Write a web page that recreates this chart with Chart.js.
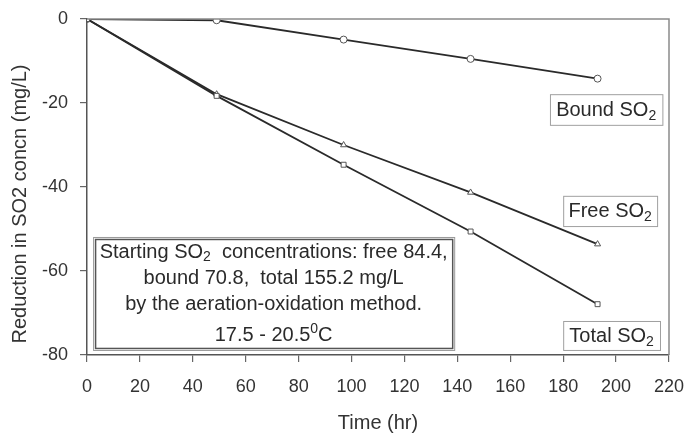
<!DOCTYPE html>
<html><head><meta charset="utf-8">
<script src="https://cdn.jsdelivr.net/npm/chart.js@4"></script>
<style>html,body{margin:0;padding:0;background:#fff;}#wrap{width:686px;height:433px;}</style>
</head><body><div id="wrap"><canvas id="c" width="686" height="433"></canvas></div>
<script>
const times = [0, 49, 97, 145, 193];
const boundSO2 = [0, -0.3, -4.9, -9.5, -14.2];
const freeSO2 = [0, -17.9, -30, -41.3, -53.6];
const totalSO2 = [0, -18.3, -34.7, -50.6, -67.9];
const xTicks = [0,20,40,60,80,100,120,140,160,180,200,220];
const yTicks = [0,-20,-40,-60,-80];
const xTitle = 'Time (hr)';
const yTitle = 'Reduction in SO2 concn (mg/L)';

const FONT = '"Liberation Sans", Arial, sans-serif';
const toPts = ys => times.map((t,i)=>({x:t,y:ys[i]}));

function drawRich(ctx, parts, x, y, size, align){
  let w = 0;
  const small = Math.round(size*0.68);
  parts.forEach(p=>{ ctx.font = (p[1]?small:size)+'px '+FONT; w += ctx.measureText(p[0]).width; });
  let cx = align==='center' ? x - w/2 : x;
  ctx.textBaseline = 'middle'; ctx.textAlign='left';
  parts.forEach(p=>{
    ctx.font = (p[1]?small:size)+'px '+FONT;
    let dy = p[1]===1 ? size*0.28 : (p[1]===2 ? -size*0.3 : 0);
    ctx.fillText(p[0], cx, y+dy);
    cx += ctx.measureText(p[0]).width;
  });
}

const labels = [
  {box:[175,-17.9,217.5,-25.2], parts:[['Bound SO',0],['2',1]]},
  {box:[180,-42.1,215.5,-49.3], parts:[['Free SO',0],['2',1]]},
  {box:[180,-71.9,216.6,-78.8], parts:[['Total SO',0],['2',1]]}
];
const noteBox = [2.3,-51.9,138.8,-78.8];
const noteLines = [
  [['Starting SO',0],['2',1],['  concentrations: free 84.4,',0]],
  [['bound 70.8,  total 155.2 mg/L',0]],
  [['by the aeration-oxidation method.',0]],
  [['17.5 - 20.5',0],['0',2],['C',0]]
];
const noteLineY = [252, 278, 304, 335];

const deco = {
  id:'deco',
  afterDatasetsDraw(chart){
    const ctx = chart.ctx, a = chart.chartArea, xs = chart.scales.x, ys = chart.scales.y;
    ctx.save();
    ctx.strokeStyle = '#8a8a8a'; ctx.lineWidth = 1.5;
    ctx.beginPath(); ctx.moveTo(a.left, a.top); ctx.lineTo(a.right, a.top); ctx.lineTo(a.right, a.bottom); ctx.stroke();
    labels.forEach(l=>{
      const x1=xs.getPixelForValue(l.box[0]), y1=ys.getPixelForValue(l.box[1]);
      const x2=xs.getPixelForValue(l.box[2]), y2=ys.getPixelForValue(l.box[3]);
      ctx.fillStyle='#fff'; ctx.fillRect(x1,y1,x2-x1,y2-y1);
      ctx.strokeStyle='#a0a0a0'; ctx.lineWidth=1; ctx.strokeRect(x1+0.5,y1+0.5,x2-x1,y2-y1);
      ctx.fillStyle='#2a2a2a';
      drawRich(ctx, l.parts, (x1+x2)/2, (y1+y2)/2+1, 20, 'center');
    });
    const bx1=xs.getPixelForValue(noteBox[0]), by1=ys.getPixelForValue(noteBox[1]);
    const bx2=xs.getPixelForValue(noteBox[2]), by2=ys.getPixelForValue(noteBox[3]);
    ctx.fillStyle='#fff'; ctx.fillRect(bx1,by1,bx2-bx1,by2-by1);
    ctx.strokeStyle='#999'; ctx.lineWidth=1; ctx.strokeRect(bx1+0.5,by1+0.5,bx2-bx1,by2-by1);
    ctx.strokeStyle='#555'; ctx.lineWidth=1.5; ctx.strokeRect(bx1+2.5,by1+2.5,bx2-bx1-4,by2-by1-4);
    ctx.fillStyle='#2a2a2a';
    const cx=(bx1+bx2)/2;
    noteLines.forEach((ln,i)=>drawRich(ctx, ln, cx, noteLineY[i], 20, 'center'));
    ctx.save();
    ctx.translate(20, 204); ctx.rotate(-Math.PI/2);
    ctx.font = '20px '+FONT; ctx.fillStyle='#333'; ctx.textAlign='center'; ctx.textBaseline='middle';
    ctx.fillText(yTitle, 0, 0);
    ctx.restore();
    ctx.restore();
  }
};

const common = {borderColor:'#2a2a2a', borderWidth:1.8, pointBackgroundColor:'#fff', pointBorderColor:'#555', pointBorderWidth:1, pointRadius:3.5, showLine:true, tension:0};
new Chart(document.getElementById('c'), {
  type:'scatter',
  data:{datasets:[
    Object.assign({label:'Total', data:toPts(totalSO2), pointStyle:'rect'}, common),
    Object.assign({label:'Free', data:toPts(freeSO2), pointStyle:'triangle'}, common),
    Object.assign({label:'Bound', data:toPts(boundSO2), pointStyle:'circle', pointRadius:4}, common)
  ]},
  options:{
    responsive:false, animation:false, devicePixelRatio:1,
    layout:{padding:{left:0,right:17,top:19,bottom:0}},
    plugins:{legend:{display:false}, tooltip:{enabled:false}},
    scales:{
      x:{type:'linear', min:0, max:220,
        afterBuildTicks(s){ s.ticks = xTicks.map(v=>({value:v})); },
        afterFit(s){ s.height = 78; s.paddingLeft = 0; s.paddingRight = 0; },
        grid:{drawOnChartArea:false, drawTicks:true, tickLength:7, color:'#666', lineWidth:1.2},
        border:{color:'#555', width:1.5},
        ticks:{font:{size:18, family:FONT}, color:'#333', padding:14, maxRotation:0, autoSkip:false},
        title:{display:true, text:xTitle, font:{size:20, family:FONT}, color:'#333', padding:{top:18, bottom:-2}}
      },
      y:{type:'linear', min:-80, max:0,
        afterBuildTicks(s){ s.ticks = yTicks.map(v=>({value:v})); },
        afterFit(s){ s.width = 87; s.paddingTop = 0; s.paddingBottom = 0; },
        grid:{drawOnChartArea:false, drawTicks:true, tickLength:7, color:'#666', lineWidth:1.2},
        border:{color:'#555', width:1.5},
        ticks:{font:{size:18, family:FONT}, color:'#333', padding:12, autoSkip:false},
        title:{display:false}
      }
    }
  },
  plugins:[deco]
});
</script></body></html>
